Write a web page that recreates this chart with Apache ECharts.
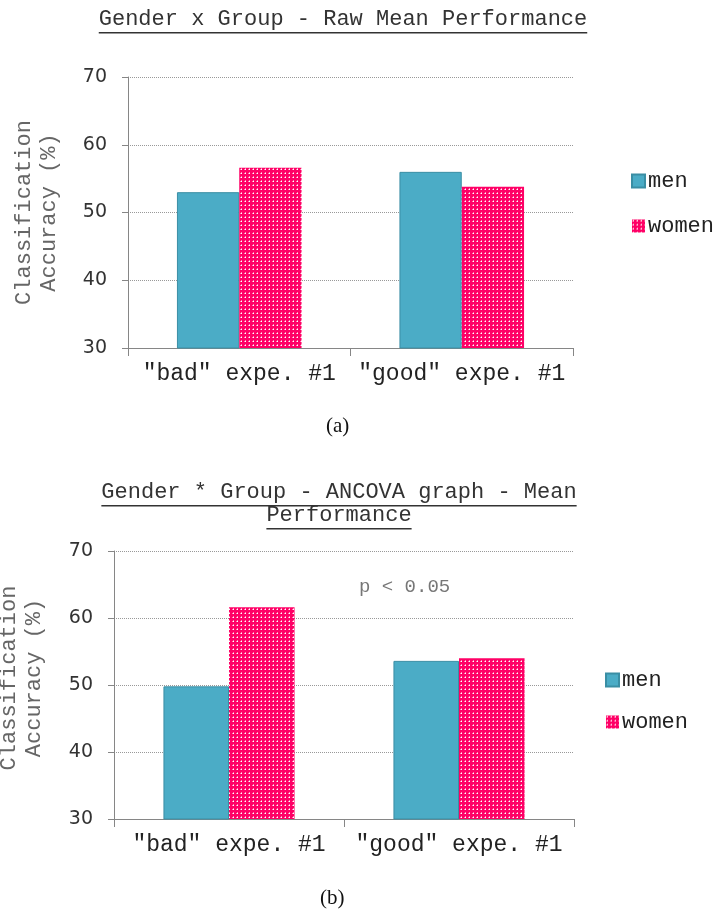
<!DOCTYPE html>
<html><head><meta charset="utf-8">
<script src="https://cdn.jsdelivr.net/npm/echarts@6/dist/echarts.min.js"></script>
<style>html,body{margin:0;padding:0;background:#fff}#c{width:713px;height:913px}</style>
</head><body><div id="c"></div>
<script>
const categories = ['"bad" expe. #1', '"good" expe. #1'];
const seriesNames = ['men', 'women'];
const menA = [53.0, 56.0];
const womenA = [56.6, 53.8];
const menB = [49.8, 53.6];
const womenB = [61.6, 54.0];
const yMin = 30, yMax = 70, yStep = 10;
const titleA = 'Gender x Group - Raw Mean Performance';
const titleB1 = 'Gender * Group - ANCOVA graph - Mean';
const titleB2 = 'Performance';
const yName = 'Classification\nAccuracy (%)';
const note = 'p < 0.05';

const MONO = '"Liberation Mono", "Courier New", monospace';
const SANS = '"DejaVu Sans", Verdana, sans-serif';
const SERIF = '"Liberation Serif", "DejaVu Serif", serif';
const MEN = '#4BACC6';
const PINK = '#FF0066';

function makePattern() {
  const c = document.createElement('canvas');
  c.width = 4; c.height = 4;
  const g = c.getContext('2d');
  g.fillStyle = PINK; g.fillRect(0, 0, 4, 4);
  g.fillStyle = '#ff7fb0';
  g.fillRect(0, 1, 1, 1);
  g.fillRect(1, 0, 1, 1);
  g.fillStyle = '#ffffff';
  g.fillRect(1, 1, 1, 1);
  return { image: c, repeat: 'repeat' };
}
const pattern = makePattern();

function textWidth(t, font) {
  const c = document.createElement('canvas').getContext('2d');
  c.font = font;
  return c.measureText(t).width;
}

function titleEl(text, cx, y, size) {
  const w = textWidth(text, size + 'px ' + MONO);
  return [
    { type: 'text', left: cx - w / 2, top: y, style: { text: text, font: size + 'px ' + MONO, fill: '#333' } },
    { type: 'rect', shape: { x: cx - w / 2, y: y + size + 2, width: w, height: 1.5 }, style: { fill: '#333' } }
  ];
}

const grids = [
  { left: 128, top: 77, width: 445, height: 271, outerBoundsMode: 'none', containLabel: false },
  { left: 114, top: 551, width: 460, height: 268, outerBoundsMode: 'none', containLabel: false }
];

function xAxis(i) {
  return {
    type: 'category', gridIndex: i, data: categories,
    axisLine: { lineStyle: { color: '#868686', width: 1 } },
    axisTick: { show: true, length: 8, lineStyle: { color: '#868686' } },
    axisLabel: { interval: 0, fontFamily: MONO, fontSize: 23, color: '#222', margin: 14 }
  };
}
function yAxis(i, gap, pad) {
  return {
    type: 'value', gridIndex: i, min: yMin, max: yMax, interval: yStep,
    name: yName, nameLocation: 'middle', nameGap: gap, nameRotate: 90,
    nameTextStyle: { fontFamily: MONO, fontSize: 22, color: '#666', lineHeight: 25, padding: pad },
    axisLine: { show: true, lineStyle: { color: '#868686', width: 1 } },
    axisTick: { show: true, length: 6, lineStyle: { color: '#868686' } },
    axisLabel: { fontFamily: SANS, fontSize: 19, color: '#333', margin: 21 },
    splitLine: { show: true, lineStyle: { color: '#999', type: [1, 1], width: 1 } }
  };
}

function bars(i, men, women, cat) {
  return [
    { name: 'men', type: 'bar', xAxisIndex: i, yAxisIndex: i, data: men, barGap: '0%', barCategoryGap: cat,
      itemStyle: { color: MEN, borderColor: '#3A8EA4', borderWidth: 1 } },
    { name: 'women', type: 'bar', xAxisIndex: i, yAxisIndex: i, data: women, barGap: '0%', barCategoryGap: cat,
      itemStyle: { color: pattern } }
  ];
}

function legend(left, top, gap) {
  return { orient: 'vertical', left: left, top: top, itemWidth: 13, itemHeight: 13, itemGap: gap,
    icon: 'rect', data: seriesNames,
    textStyle: { fontFamily: MONO, fontSize: 22, color: '#222', padding: [0, 0, 0, -2] } };
}

const chart = echarts.init(document.getElementById('c'), null, { renderer: 'canvas' });
const option = {
  animation: false,
  backgroundColor: '#fff',
  grid: grids,
  xAxis: [xAxis(0), xAxis(1)],
  yAxis: [yAxis(0, 66, 0), yAxis(1, 67, [0, 0, 0, 14])],
  legend: [legend(626, 165, 23), legend(600, 664, 20)],
  series: [].concat(bars(0, menA, womenA, '44%'), bars(1, menB, womenB, '43%')),
  graphic: [].concat(
    titleEl(titleA, 343, 8, 22),
    titleEl(titleB1, 339, 481, 22),
    titleEl(titleB2, 339, 504, 22),
    [
      { type: 'text', left: 359, top: 577, style: { text: note, font: '19px ' + MONO, fill: '#777' } },
      { type: 'text', left: 326, top: 416, style: { text: '(a)', font: '21px ' + SERIF, fill: '#111' } },
      { type: 'text', left: 320, top: 888, style: { text: '(b)', font: '21px ' + SERIF, fill: '#111' } }
    ]
  )
};
chart.setOption(option);
</script></body></html>
